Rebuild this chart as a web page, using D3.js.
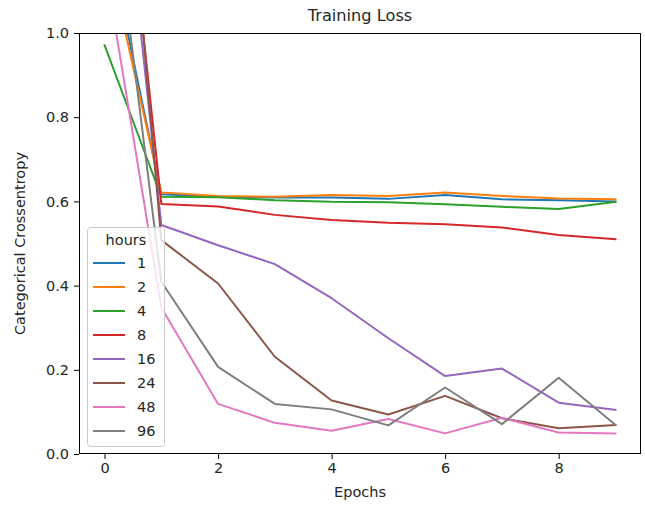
<!DOCTYPE html>
<html>
<head>
<meta charset="utf-8">
<script src="https://cdn.jsdelivr.net/npm/d3@7"></script>
<style>
  body { margin: 0; background: #fff; }
  text { font-family: "DejaVu Sans", sans-serif; fill: #262626; }
</style>
</head>
<body>
<svg width="645" height="508"></svg>
<script>
// data
var epochs = [0, 1, 2, 3, 4, 5, 6, 7, 8, 9];
var hours = ["1", "2", "4", "8", "16", "24", "48", "96"];
var loss1  = [1.264, 0.617, 0.611, 0.609, 0.609, 0.606, 0.615, 0.605, 0.603, 0.600];
var loss2  = [1.222, 0.621, 0.613, 0.611, 0.615, 0.613, 0.621, 0.613, 0.607, 0.605];
var loss4  = [0.971, 0.611, 0.610, 0.603, 0.599, 0.598, 0.593, 0.587, 0.582, 0.599];
var loss8  = [1.868, 0.594, 0.588, 0.568, 0.556, 0.549, 0.546, 0.538, 0.520, 0.510];
var loss16 = [1.814, 0.544, 0.496, 0.451, 0.370, 0.275, 0.185, 0.203, 0.122, 0.105];
var loss24 = [2.050, 0.508, 0.405, 0.231, 0.127, 0.094, 0.138, 0.085, 0.061, 0.069];
var loss48 = [1.169, 0.348, 0.119, 0.074, 0.055, 0.083, 0.049, 0.086, 0.051, 0.049];
var loss96 = [1.488, 0.409, 0.207, 0.119, 0.106, 0.068, 0.158, 0.071, 0.181, 0.069];
var series = [loss1, loss2, loss4, loss8, loss16, loss24, loss48, loss96];
var colors = ["#1f77b4", "#ff7f0e", "#2ca02c", "#d62728", "#9467bd", "#8c564b", "#e377c2", "#7f7f7f"];
var xTicks = [0, 2, 4, 6, 8];
var yTicks = [0.0, 0.2, 0.4, 0.6, 0.8, 1.0];

function draw()
{
  var svg = d3.select("svg");
  var pL = 79, pR = 641, pT = 33, pB = 454;

  var x = d3.scaleLinear().domain([-0.45, 9.45]).range([pL, pR]);
  var y = d3.scaleLinear().domain([0, 1]).range([pB, pT]);

  svg.append("clipPath").attr("id", "clip")
    .append("rect").attr("x", pL).attr("y", pT)
    .attr("width", pR - pL).attr("height", pB - pT);

  var line = d3.line()
    .x(function(d, i) { return x(epochs[i]); })
    .y(function(d) { return y(d); });

  svg.append("g").attr("clip-path", "url(#clip)")
    .selectAll("path")
    .data(series)
    .enter().append("path")
      .attr("d", line)
      .attr("fill", "none")
      .attr("stroke", function(d, i) { return colors[i]; })
      .attr("stroke-width", 2)
      .attr("stroke-linejoin", "round")
      .attr("stroke-linecap", "square");

  // axes
  var xAxis = d3.axisBottom(x).tickValues(xTicks).tickSize(5).tickPadding(4)
    .tickFormat(d3.format("d"));
  var yAxis = d3.axisLeft(y).tickValues(yTicks).tickSize(5).tickPadding(5)
    .tickFormat(d3.format(".1f"));

  var gx = svg.append("g").attr("transform", "translate(0," + pB + ")").call(xAxis);
  var gy = svg.append("g").attr("transform", "translate(" + pL + ",0)").call(yAxis);
  [gx, gy].forEach(function(g) {
    g.select(".domain").remove();
    g.selectAll("line").attr("stroke", "#000").attr("stroke-width", 1);
    g.selectAll("text").style("font-size", "14.5px").style("fill", "#262626")
      .style("font-family", "'DejaVu Sans', sans-serif");
  });

  svg.append("rect")
    .attr("x", pL + 0.5).attr("y", pT + 0.5)
    .attr("width", pR - pL - 1).attr("height", pB - pT - 1)
    .attr("fill", "none").attr("stroke", "#000").attr("stroke-width", 1);

  // titles
  svg.append("text").attr("x", (pL + pR) / 2).attr("y", 21)
    .attr("text-anchor", "middle").style("font-size", "16.2px").text("Training Loss");
  svg.append("text").attr("x", (pL + pR) / 2).attr("y", 497)
    .attr("text-anchor", "middle").style("font-size", "14.5px").text("Epochs");
  svg.append("text")
    .attr("transform", "translate(25," + (pT + pB) / 2 + ") rotate(-90)")
    .attr("text-anchor", "middle").style("font-size", "14.5px")
    .text("Categorical Crossentropy");

  // legend
  var lg = svg.append("g");
  lg.append("rect")
    .attr("x", 87.5).attr("y", 227.5).attr("width", 77).attr("height", 219)
    .attr("rx", 3).attr("fill", "#fff").attr("fill-opacity", 0.8)
    .attr("stroke", "#ccc").attr("stroke-width", 1);
  lg.append("text").attr("x", 126).attr("y", 245)
    .attr("text-anchor", "middle").style("font-size", "14.5px").text("hours");
  var items = lg.selectAll(".item").data(hours).enter().append("g")
    .attr("transform", function(d, i) { return "translate(0," + (263 + i * 24.0) + ")"; });
  items.append("line").attr("x1", 93).attr("x2", 125).attr("y1", 0).attr("y2", 0)
    .attr("stroke", function(d, i) { return colors[i]; }).attr("stroke-width", 2);
  items.append("text").attr("x", 137).attr("y", 5)
    .style("font-size", "14.5px").text(function(d) { return d; });
}
draw();
</script>
</body>
</html>
